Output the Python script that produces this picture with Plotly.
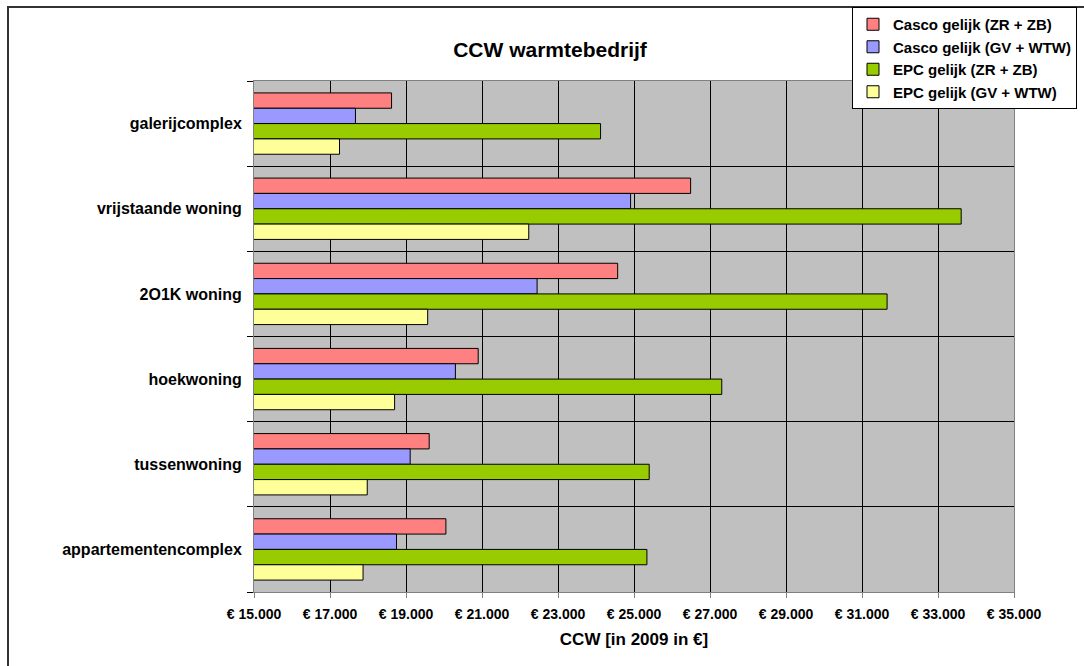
import plotly.graph_objects as go

# Woningtypes, top to bottom
categories = [
    "galerijcomplex",
    "vrijstaande woning",
    "2O1K woning",
    "hoekwoning",
    "tussenwoning",
    "appartementencomplex",
]

# CCW per variant (in 2009, in euro)
casco_zr_zb = [18620, 26490, 24570, 20900, 19610, 20050]
casco_gv_wtw = [17670, 24910, 22450, 20300, 19110, 18750]
epc_zr_zb = [24120, 33610, 31660, 27310, 25400, 25340]
epc_gv_wtw = [17250, 22230, 19570, 18700, 17980, 17870]

series_names = [
    "Casco gelijk (ZR + ZB)",
    "Casco gelijk (GV + WTW)",
    "EPC gelijk (ZR + ZB)",
    "EPC gelijk (GV + WTW)",
]
series_values = [casco_zr_zb, casco_gv_wtw, epc_zr_zb, epc_gv_wtw]
series_colors = ["#FF8080", "#9999FF", "#99CC00", "#FFFF99"]

x_tick_values = list(range(15000, 35001, 2000))
x_tick_labels = ["€ 15.000", "€ 17.000", "€ 19.000", "€ 21.000", "€ 23.000",
                 "€ 25.000", "€ 27.000", "€ 29.000", "€ 31.000", "€ 33.000",
                 "€ 35.000"]

FONT = "Liberation Sans, Arial, sans-serif"

fig = go.Figure()
for name, vals, col in zip(series_names, series_values, series_colors):
    fig.add_trace(go.Bar(
        name=f"<b>{name}</b>",
        y=categories,
        x=vals,
        orientation="h",
        marker=dict(color=col, line=dict(color="#000000", width=1)),
    ))

# plot area: x 254..1014, y 81..592 in a 1084x666 page
L, R, T, B = 254, 70, 81, 74
W, H = 1084, 666
pw, ph = W - L - R, H - T - B


def px_x(px):
    return (px - L) / pw


def px_y(py):
    return 1 - (py - T) / ph


fig.update_layout(
    width=W,
    height=H,
    margin=dict(l=L, r=R, t=T, b=B, pad=0, autoexpand=False),
    paper_bgcolor="#FFFFFF",
    plot_bgcolor="#C0C0C0",
    barmode="group",
    bargap=0.28,
    bargroupgap=0,
    font=dict(family=FONT, color="#000000"),
    title=dict(
        text="<b>CCW warmtebedrijf</b>",
        x=550 / W,
        xanchor="center",
        y=1 - 50 / H,
        yanchor="middle",
        xref="container",
        yref="container",
        font=dict(family=FONT, size=21, color="#000000"),
    ),
    legend=dict(
        x=px_x(852),
        y=px_y(7),
        xanchor="left",
        yanchor="top",
        bgcolor="#FFFFFF",
        bordercolor="#000000",
        borderwidth=1,
        traceorder="normal",
        itemwidth=30,
        font=dict(family=FONT, size=15, color="#000000"),
        itemclick=False,
    ),
    xaxis=dict(
        range=[15000, 35000],
        tickvals=x_tick_values,
        ticktext=[f"<b>{t}</b>" for t in x_tick_labels],
        tickfont=dict(family=FONT, size=14, color="#000000"),
        ticks="outside",
        ticklen=5,
        tickcolor="#808080",
        ticklabelstandoff=4,
        showgrid=True,
        gridcolor="#000000",
        gridwidth=1,
        showline=True,
        linecolor="#808080",
        linewidth=1,
        mirror=True,
        zeroline=False,
        title=dict(text="<b>CCW [in 2009 in €]</b>",
                   font=dict(family=FONT, size=17, color="#000000"),
                   standoff=12),
    ),
    yaxis=dict(
        autorange="reversed",
        categoryorder="array",
        categoryarray=categories,
        tickson="boundaries",
        ticks="outside",
        ticklen=6,
        tickcolor="#000000",
        ticklabelstandoff=8,
        tickvals=categories,
        ticktext=[f"<b>{c}</b>" for c in categories],
        tickfont=dict(family=FONT, size=16, color="#000000"),
        showgrid=True,
        gridcolor="#000000",
        gridwidth=1,
        showline=True,
        linecolor="#808080",
        linewidth=1,
        mirror=True,
        zeroline=False,
    ),
    shapes=[
        # outer chart frame
        dict(type="rect", xref="paper", yref="paper",
             x0=px_x(8), x1=px_x(1100), y0=px_y(690), y1=px_y(7),
             line=dict(color="#333333", width=2), fillcolor="rgba(0,0,0,0)",
             layer="below"),
    ],
)

fig.write_html("out.html")
